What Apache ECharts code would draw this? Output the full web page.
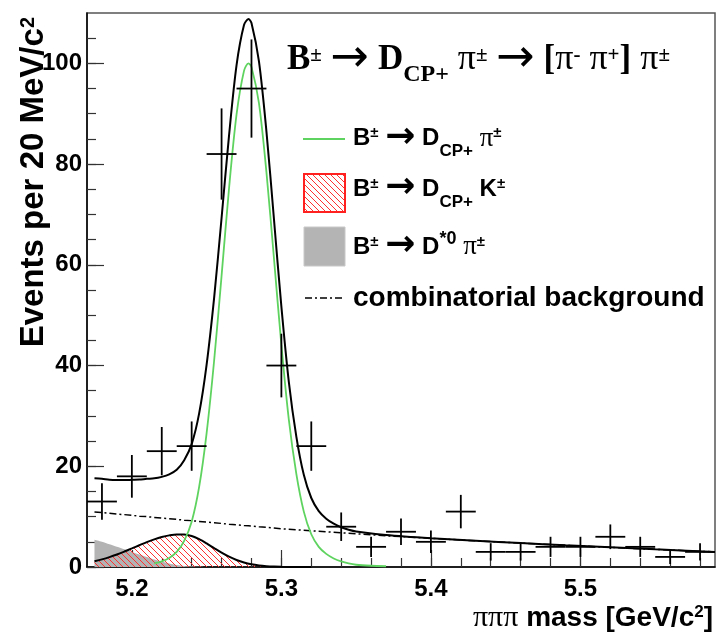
<!DOCTYPE html>
<html><head><meta charset="utf-8">
<script src="https://cdn.jsdelivr.net/npm/echarts@6/dist/echarts.min.js"></script>
<style>html,body{margin:0;padding:0;background:#fff}#c{width:717px;height:636px}</style>
</head><body><div id="c"></div>
<script>
// ---- data points (bin centres, counts, errors) ----
const binCenters = [5.18,5.20,5.22,5.24,5.26,5.28,5.30,5.32,5.34,5.36,5.38,5.40,5.42,5.44,5.46,5.48,5.50,5.52,5.54,5.56,5.58];
const counts = [13,18,23,24,82,95,40,24,8,4,7,5,11,3,3,4,4,6,4,2,3];
const countErrors = [3.61,4.24,4.80,4.90,9.06,9.75,6.32,4.90,2.83,2.0,2.65,2.24,3.32,1.73,1.73,2.0,2.0,2.45,2.0,1.41,1.73];
const binHalfWidth = 0.01;

// ---- fit curves ----
const fitX = [5.175,5.18,5.185,5.19,5.195,5.2,5.205,5.21,5.215,5.22,5.225,5.23,5.235,5.24,5.245,5.25,5.255,5.26,5.265,5.27,5.275,5.278,5.28,5.285,5.29,5.295,5.3,5.305,5.31,5.315,5.32,5.325,5.33,5.335,5.34,5.345,5.35,5.37,5.4,5.43,5.46,5.49,5.52,5.55,5.59];
const totalFit = [17.6,17.5,17.3,17.25,17.25,17.3,17.35,17.5,17.6,17.9,18.4,19.3,21.2,24.4,30.5,40.2,53.4,69.3,85.7,99.6,107.6,108.8,108.0,100.4,86.5,69.2,51.7,36.7,25.9,18.3,13.7,11.1,9.6,8.6,7.9,7.4,7.05,6.35,5.7,5.2,4.75,4.3,3.9,3.5,3.0];
const combBkg = [10.9,10.8,10.65,10.5,10.4,10.25,10.1,10.0,9.85,9.7,9.6,9.45,9.3,9.2,9.05,8.9,8.8,8.65,8.5,8.4,8.25,8.2,8.15,8.0,7.9,7.75,7.6,7.5,7.4,7.3,7.2,7.1,7.0,6.9,6.8,6.7,6.6,6.2,5.7,5.2,4.75,4.3,3.9,3.5,3.0];
const sigX = [5.215,5.22,5.225,5.23,5.235,5.24,5.245,5.25,5.255,5.26,5.265,5.27,5.275,5.278,5.28,5.285,5.29,5.295,5.3,5.305,5.31,5.315,5.32,5.325,5.33,5.335,5.34,5.345,5.35,5.36,5.37];
const sigFit = [0.7,1.1,1.8,3.0,5.2,9.0,15.9,26.6,40.9,57.8,75.2,89.8,98.5,100,99.3,92.1,78.4,61.4,44.1,29.2,18.5,11.0,6.5,4.0,2.6,1.7,1.1,0.7,0.45,0.25,0.15];
const dkX = [5.175,5.18,5.185,5.19,5.195,5.2,5.205,5.21,5.215,5.22,5.225,5.23,5.235,5.24,5.245,5.25,5.255,5.26,5.265,5.27,5.275,5.28,5.285,5.29,5.295,5.3,5.31,5.32];
const dkFit = [1.13,1.51,1.96,2.48,3.07,3.69,4.32,4.94,5.49,5.95,6.28,6.47,6.47,6.15,5.52,4.68,3.75,2.84,2.04,1.38,0.88,0.53,0.3,0.16,0.08,0.04,0.01,0];
const dstX = [5.175,5.18,5.185,5.19,5.195,5.2,5.205,5.21,5.215,5.22,5.225,5.23,5.235,5.24,5.245,5.25];
const dstFit = [5.4,5.0,4.5,4.0,3.5,3.0,2.5,2.0,1.5,1.1,0.7,0.4,0.2,0.1,0.05,0];

// ---- ticks ----
const xMajorTicks = [5.2,5.3,5.4,5.5];
const xMinorTicks = [5.18,5.2,5.22,5.24,5.26,5.28,5.3,5.32,5.34,5.36,5.38,5.4,5.42,5.44,5.46,5.48,5.5,5.52,5.54,5.56,5.58];
const yMajorTicks = [0,20,40,60,80,100];
const yMinorTicks = [0,5,10,15,20,25,30,35,40,45,50,55,60,65,70,75,80,85,90,95,100,105];

const SANS = '"Liberation Sans", Arial, Helvetica, sans-serif';
const SERIF = '"Liberation Serif", "Times New Roman", serif';
const ARROW = '"DejaVu Sans", sans-serif';

function makeHatch() {
  const s = 6;
  const c = document.createElement('canvas');
  c.width = s; c.height = s;
  const g = c.getContext('2d');
  g.strokeStyle = '#ff3030'; g.lineWidth = 1;
  g.beginPath();
  for (const k of [-s, 0, s]) { g.moveTo(k, 0); g.lineTo(k + s, s); }
  g.stroke();
  return c;
}
const hatchCanvas = makeHatch();
const xy = (xs, ys) => xs.map((x, i) => [x, ys[i]]);

const chart = echarts.init(document.getElementById('c'), null, {renderer: 'canvas'});

const bold = (size, extra) => Object.assign({fontFamily: SANS, fontWeight: 'bold', fontSize: size, color: '#000'}, extra || {});
const legRich = {
  b: bold(24),
  ar: {fontFamily: ARROW, fontWeight: 'bold', fontSize: 36, color: '#000', padding: [0, 0, 2, 0]},
  sup: bold(15, {padding: [0, 0, 11, 0]}),
  sup2: bold(18, {padding: [0, 0, 16, 0]}),
  sub: bold(17, {padding: [26, 0, 0, 0]}),
  pi: {fontFamily: SERIF, fontSize: 27, color: '#000'},
  c: bold(28)
};
const headRich = {
  hb: {fontFamily: SERIF, fontWeight: 'bold', fontSize: 35, color: '#000'},
  har: {fontFamily: ARROW, fontSize: 46, color: '#000', padding: [0, 0, 2, 0]},
  hsup: {fontFamily: SERIF, fontWeight: 'bold', fontSize: 21, color: '#000', padding: [0, 0, 9, 0]},
  hsub: {fontFamily: SERIF, fontWeight: 'bold', fontSize: 24, color: '#000', padding: [30, 0, 0, 0]},
  hpi: {fontFamily: SERIF, fontSize: 36, color: '#000'}
};

const option = {
  animation: false,
  backgroundColor: '#fff',
  textStyle: {fontFamily: SANS},
  grid: {left: 87, right: 2, top: 13, bottom: 69, show: true, borderColor: '#555', borderWidth: 1.5, backgroundColor: 'transparent'},
  xAxis: [
    {type: 'value', min: 5.17, max: 5.59, position: 'bottom',
     axisLine: {lineStyle: {color: '#000', width: 1.5}},
     axisTick: {inside: true, length: 9, customValues: xMinorTicks, lineStyle: {color: '#333', width: 1.2}},
     axisLabel: {customValues: xMajorTicks, formatter: v => v.toFixed(1), fontFamily: SANS, fontWeight: 'bold', fontSize: 24, color: '#000', margin: 10},
     splitLine: {show: false}},
    {type: 'value', min: 5.17, max: 5.59, position: 'bottom',
     axisLine: {show: false},
     axisTick: {inside: true, length: 17, customValues: xMajorTicks, lineStyle: {color: '#333', width: 1.2}},
     axisLabel: {show: false}, splitLine: {show: false}}
  ],
  yAxis: [
    {type: 'value', min: 0, max: 110, position: 'left',
     axisLine: {show: true, lineStyle: {color: '#000', width: 1.5}},
     axisTick: {show: true, inside: true, length: 9, customValues: yMinorTicks, lineStyle: {color: '#333', width: 1.2}},
     axisLabel: {customValues: yMajorTicks, fontFamily: SANS, fontWeight: 'bold', fontSize: 24, color: '#000', margin: 5},
     splitLine: {show: false}},
    {type: 'value', min: 0, max: 110, position: 'left',
     axisLine: {show: false},
     axisTick: {show: true, inside: true, length: 17, customValues: yMajorTicks, lineStyle: {color: '#333', width: 1.2}},
     axisLabel: {show: false}, splitLine: {show: false}}
  ],
  series: [
    {type: 'line', data: xy(dstX, dstFit), showSymbol: false, smooth: 0.3, silent: true,
     lineStyle: {width: 0}, areaStyle: {color: '#b3b3b3', opacity: 1}, z: 1},
    {type: 'line', data: xy(dkX, dkFit), showSymbol: false, smooth: 0.3, silent: true,
     lineStyle: {color: '#000', width: 2}, areaStyle: {color: {image: hatchCanvas, repeat: 'repeat'}, opacity: 1}, z: 2},
    {type: 'line', data: xy(fitX, combBkg), showSymbol: false, silent: true,
     lineStyle: {color: '#000', width: 1.5, type: [7, 3, 2, 3]}, z: 3},
    {type: 'line', data: xy(sigX, sigFit), showSymbol: false, smooth: 0.3, silent: true,
     lineStyle: {color: '#5fd35f', width: 1.8}, z: 4},
    {type: 'line', data: xy(fitX, totalFit), showSymbol: false, smooth: 0.3, silent: true,
     lineStyle: {color: '#000', width: 2}, z: 5},
    {type: 'custom', z: 6, silent: true,
     data: binCenters.map((x, i) => [x, counts[i], countErrors[i]]),
     renderItem: function (params, api) {
       const x = api.value(0), y = api.value(1), e = api.value(2);
       const l = api.coord([x - binHalfWidth, y]), r = api.coord([x + binHalfWidth, y]);
       const t = api.coord([x, y + e]), b = api.coord([x, y - e]);
       const st = {stroke: '#000', lineWidth: 1.8};
       return {type: 'group', children: [
         {type: 'line', shape: {x1: l[0], y1: l[1], x2: r[0], y2: r[1]}, style: st},
         {type: 'line', shape: {x1: t[0], y1: t[1], x2: b[0], y2: b[1]}, style: st}
       ]};
     }}
  ],
  graphic: [
    {type: 'text', x: 287, y: 60, z: 100, style: {
      text: '{hb|B}{hsup|±}{hb| }{har|→}{hb| D}{hsub|CP+}{hpi| π}{hsup|±}{hb| }{har|→}{hb| [}{hpi|π}{hsup|-}{hpi| π}{hsup|+}{hb|]}{hpi| π}{hsup|±}',
      rich: headRich, align: 'left', verticalAlign: 'middle'}},
    {type: 'line', z: 100, shape: {x1: 303, y1: 139, x2: 345, y2: 139}, style: {stroke: '#5fd35f', lineWidth: 1.8}},
    {type: 'text', x: 353, y: 138.5, z: 100, style: {text: '{b|B}{sup|±}{b| }{ar|→}{b| D}{sub|CP+}{pi| π}{sup|±}', rich: legRich, align: 'left', verticalAlign: 'middle'}},
    {type: 'rect', z: 100, shape: {x: 304, y: 174, width: 41, height: 38}, style: {fill: {image: hatchCanvas, repeat: 'repeat'}, stroke: '#ff2020', lineWidth: 2}},
    {type: 'text', x: 353, y: 189, z: 100, style: {text: '{b|B}{sup|±}{b| }{ar|→}{b| D}{sub|CP+}{b| K}{sup|±}', rich: legRich, align: 'left', verticalAlign: 'middle'}},
    {type: 'rect', z: 100, shape: {x: 304, y: 227, width: 41, height: 39}, style: {fill: '#b4b4b4', stroke: '#c8c8c8', lineWidth: 1}},
    {type: 'text', x: 353, y: 247, z: 100, style: {text: '{b|B}{sup|±}{b| }{ar|→}{b| D}{sup2|*0}{pi| π}{sup|±}', rich: legRich, align: 'left', verticalAlign: 'middle'}},
    {type: 'line', z: 100, shape: {x1: 305, y1: 298, x2: 343, y2: 298}, style: {stroke: '#000', lineWidth: 1.5, lineDash: [7, 3, 2, 3]}},
    {type: 'text', x: 353, y: 298, z: 100, style: {text: '{c|combinatorial background}', rich: legRich, align: 'left', verticalAlign: 'middle'}},
    {type: 'text', x: 34, y: 17, rotation: Math.PI / 2, z: 100, style: {
      text: '{t|Events per 20 MeV/c}{s|2}',
      rich: {t: bold(33), s: bold(20, {padding: [0, 0, 12, 0]})},
      align: 'right', verticalAlign: 'middle'}},
    {type: 'text', x: 713, y: 618, z: 100, style: {
      text: '{p|πππ}{m| mass [GeV/c}{s|2}{m|]}',
      rich: {p: {fontFamily: SERIF, fontSize: 30, color: '#000'}, m: bold(28), s: bold(17, {padding: [0, 0, 12, 0]})},
      align: 'right', verticalAlign: 'middle'}}
  ]
};
chart.setOption(option);
</script>
</body></html>
